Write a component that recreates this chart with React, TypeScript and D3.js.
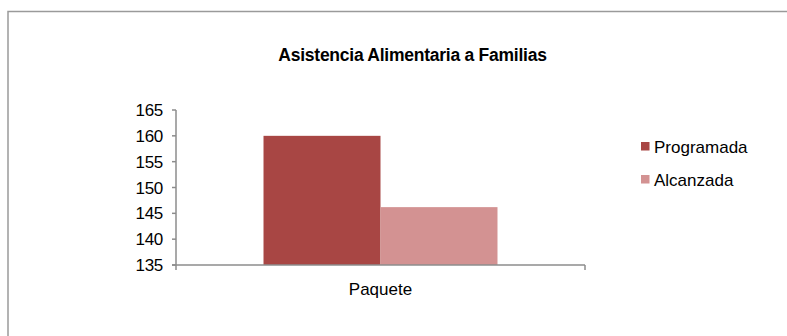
import React, { useEffect, useRef } from "react";
import * as d3 from "d3";

const categories = ["Paquete"];
const seriesNames = ["Programada", "Alcanzada"];
const programada = [160];
const alcanzada = [146.2];
const yTicks = [135, 140, 145, 150, 155, 160, 165];
const title = "Asistencia Alimentaria a Familias";
const colors = ["#A84644", "#D39292"];

export default function App() {
  const ref = useRef<SVGSVGElement | null>(null);

  useEffect(() => {
    const svg = d3.select(ref.current);
    svg.selectAll("*").remove();
    const W = 787, H = 336;
    const left = 176, right = 585, top = 110, bottom = 265;
    const font = "Liberation Sans, Arial, sans-serif";

    svg.append("rect").attr("x", 0).attr("y", 0).attr("width", W).attr("height", H).attr("fill", "#fff");
    svg.append("rect").attr("x", 8).attr("y", 11.5).attr("width", 800).attr("height", 400)
      .attr("fill", "none").attr("stroke", "#9a9a9a").attr("stroke-width", 1.5);

    svg.append("text").attr("x", 412.5).attr("y", 61).attr("text-anchor", "middle")
      .attr("font-family", font).attr("font-weight", "bold").attr("font-size", 17.5)
      .attr("letter-spacing", -0.25).attr("fill", "#000").text(title);

    const y = d3.scaleLinear().domain([135, 165]).range([bottom, top]);
    const x0 = d3.scaleBand<string>().domain(categories).range([left, right]).paddingInner(0).paddingOuter(0.374);
    const x1 = d3.scaleBand<string>().domain(seriesNames).range([0, x0.bandwidth()]).padding(0);

    const data = categories.map((c, i) => ({ c, vals: [programada[i], alcanzada[i]] }));
    const g = svg.append("g");
    data.forEach((d) => {
      d.vals.forEach((v, j) => {
        g.append("rect")
          .attr("x", (x0(d.c) as number) + (x1(seriesNames[j]) as number))
          .attr("y", y(v))
          .attr("width", x1.bandwidth())
          .attr("height", bottom - y(v))
          .attr("fill", colors[j]);
      });
    });

    const axisColor = "#8c8c8c";
    svg.append("line").attr("x1", left).attr("x2", left).attr("y1", top).attr("y2", bottom)
      .attr("stroke", axisColor).attr("stroke-width", 1.5);
    yTicks.forEach((t) => {
      svg.append("line").attr("x1", left - 4).attr("x2", left).attr("y1", y(t)).attr("y2", y(t))
        .attr("stroke", axisColor).attr("stroke-width", 1.5);
      svg.append("text").attr("x", 163).attr("y", y(t) + 6).attr("text-anchor", "end")
        .attr("font-family", font).attr("font-size", 17).attr("letter-spacing", -0.3).attr("fill", "#000").text(String(t));
    });
    svg.append("line").attr("x1", left - 4).attr("x2", right).attr("y1", bottom).attr("y2", bottom)
      .attr("stroke", axisColor).attr("stroke-width", 1.5);
    svg.append("line").attr("x1", right).attr("x2", right).attr("y1", bottom).attr("y2", bottom + 5)
      .attr("stroke", axisColor).attr("stroke-width", 1.5);
    svg.append("line").attr("x1", left).attr("x2", left).attr("y1", bottom).attr("y2", bottom + 5)
      .attr("stroke", axisColor).attr("stroke-width", 1.5);
    categories.forEach((c) => {
      svg.append("text").attr("x", (x0(c) as number) + x0.bandwidth() / 2).attr("y", 295)
        .attr("text-anchor", "middle").attr("font-family", font).attr("font-size", 17)
        .attr("fill", "#000").text(c);
    });

    seriesNames.forEach((s, i) => {
      const ly = 142 + i * 33;
      svg.append("rect").attr("x", 641).attr("y", ly).attr("width", 8.5).attr("height", 8.5).attr("fill", colors[i]);
      svg.append("text").attr("x", 654).attr("y", ly + 10.5).attr("font-family", font).attr("font-size", 17)
        .attr("fill", "#000").text(s);
    });
  }, []);

  return (
    <svg ref={ref} width={787} height={336} style={{ position: "absolute", left: 0, top: 0, display: "block" }} />
  );
}
